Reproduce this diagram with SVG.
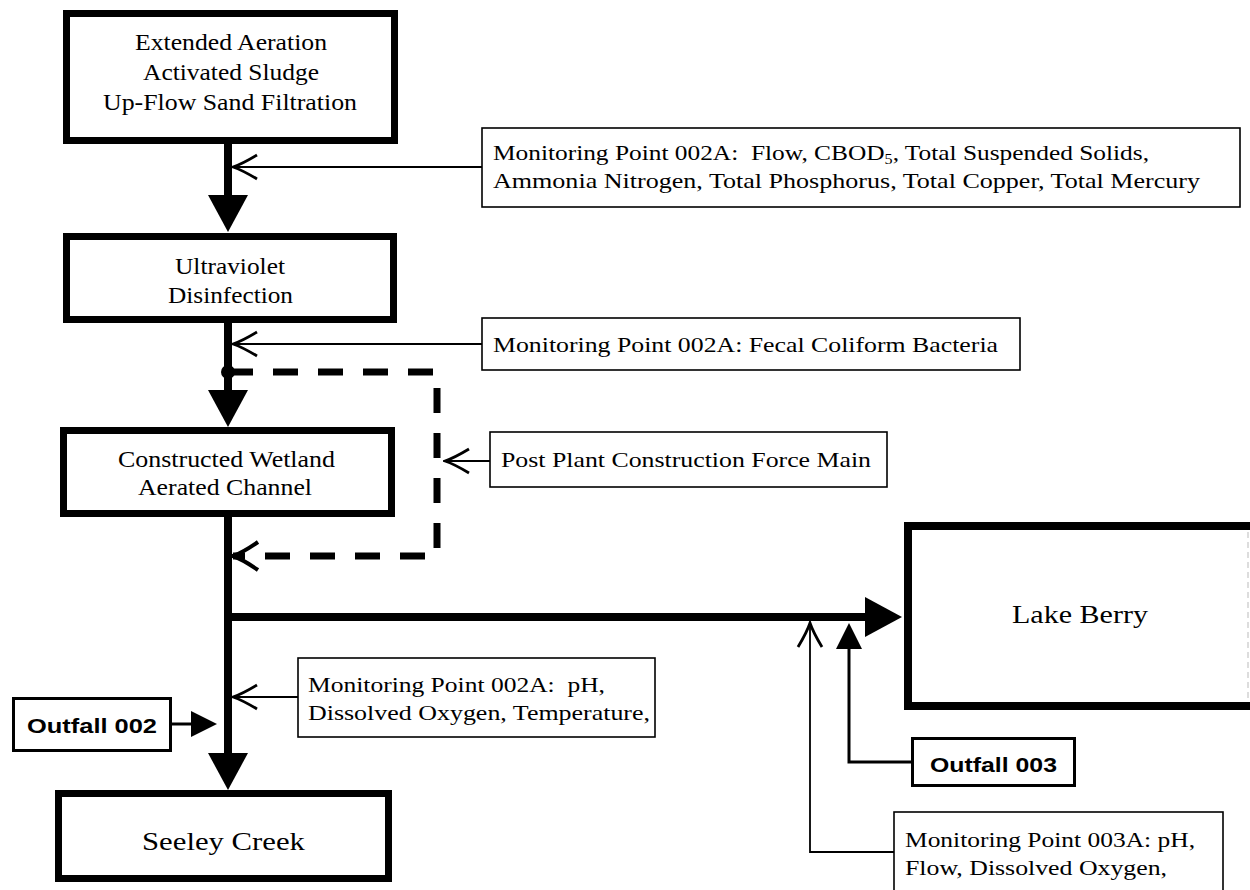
<svg xmlns="http://www.w3.org/2000/svg" width="1250" height="890" viewBox="0 0 1250 890">
<defs>
<style>
.main{fill:#fff;stroke:#000;stroke-width:7}
.mon{fill:#fff;stroke:#000;stroke-width:1.6}
.out{fill:#fff;stroke:#000;stroke-width:3}
.t{font-family:"Liberation Serif","Times New Roman",serif;fill:#000}
.tb{font-size:23px}
.tm{font-size:22px}
.tl{font-size:26px}
.ob{font-family:"Liberation Sans",Arial,sans-serif;font-weight:bold;font-size:21px;fill:#000}
.thick{fill:none;stroke:#000;stroke-width:8}
.thin{fill:none;stroke:#000;stroke-width:1.8}
.med{fill:none;stroke:#000;stroke-width:3}
.dash{fill:none;stroke:#000;stroke-width:7;stroke-dasharray:25 20}
</style>
<marker id="tri" markerUnits="userSpaceOnUse" viewBox="0 -21 38 42" refX="0" refY="0" markerWidth="38" markerHeight="42" orient="auto"><path d="M0,-20 L37,0 L0,20Z" fill="#000"/></marker>
<marker id="triS" markerUnits="userSpaceOnUse" viewBox="0 -14 28 28" refX="0" refY="0" markerWidth="28" markerHeight="28" orient="auto"><path d="M0,-13 L26,0 L0,13Z" fill="#000"/></marker>
<marker id="open" markerUnits="userSpaceOnUse" viewBox="-27 -14 29 28" refX="0" refY="0" markerWidth="29" markerHeight="28" orient="auto"><path d="M-24,-12 Q-9,-3 0,0 Q-9,3 -24,12" fill="none" stroke="#000" stroke-width="2.8"/></marker>
<marker id="openD" markerUnits="userSpaceOnUse" viewBox="-28 -16 31 32" refX="0" refY="0" markerWidth="31" markerHeight="32" orient="auto"><path d="M-25,-14 Q-9,-3 0,0 Q-9,3 -25,14" fill="none" stroke="#000" stroke-width="4"/></marker>
</defs>
<rect width="1250" height="890" fill="#fff"/>

<g id="connectors">
<path class="thick" d="M228,144 V195" marker-end="url(#tri)"/>
<path class="thick" d="M228,323 V390" marker-end="url(#tri)"/>
<path class="thick" d="M228,517 V753" marker-end="url(#tri)"/>
<path class="thick" d="M224,617 H865" marker-end="url(#tri)"/>
<circle cx="228" cy="372" r="7" fill="#000"/>
<path class="dash" d="M228,372 H437 V556 H233" marker-end="url(#openD)"/>
<path class="thin" d="M482,167 H233" marker-end="url(#open)"/>
<path class="thin" d="M482,344 H233" marker-end="url(#open)"/>
<path class="thin" d="M490,461 H445" marker-end="url(#open)"/>
<path class="thin" d="M298,697 H233" marker-end="url(#open)"/>
<path class="thin" d="M894,852 H810 V623" marker-end="url(#open)"/>
<path class="med" d="M172,724 H191" marker-end="url(#triS)"/>
<path class="med" d="M911,762 H849 V649" marker-end="url(#triS)"/>
</g>

<g id="node-extended-aeration">
<rect class="main" x="66.5" y="13.5" width="328" height="127"/>
<text class="t tb" x="135" y="50" textLength="192" lengthAdjust="spacingAndGlyphs">Extended Aeration</text>
<text class="t tb" x="143" y="80" textLength="176" lengthAdjust="spacingAndGlyphs">Activated Sludge</text>
<text class="t tb" x="103" y="110" textLength="254" lengthAdjust="spacingAndGlyphs">Up-Flow Sand Filtration</text>
</g>

<g id="node-mp-002a-flow">
<rect class="mon" x="482" y="128" width="758" height="79"/>
<text class="t tm" x="493" y="160" textLength="656" lengthAdjust="spacingAndGlyphs" xml:space="preserve">Monitoring Point 002A:  Flow, CBOD<tspan font-size="14" dy="4">5</tspan><tspan dy="-4">, Total Suspended Solids,</tspan></text>
<text class="t tm" x="493" y="188" textLength="707" lengthAdjust="spacingAndGlyphs">Ammonia Nitrogen, Total Phosphorus, Total Copper, Total Mercury</text>
</g>

<g id="node-uv">
<rect class="main" x="66.5" y="236.5" width="327" height="83"/>
<text class="t tb" x="175" y="274" textLength="110" lengthAdjust="spacingAndGlyphs">Ultraviolet</text>
<text class="t tb" x="168" y="303" textLength="125" lengthAdjust="spacingAndGlyphs">Disinfection</text>
</g>

<g id="node-mp-002a-fecal">
<rect class="mon" x="482" y="318" width="538" height="52"/>
<text class="t tm" x="493" y="352" textLength="505" lengthAdjust="spacingAndGlyphs">Monitoring Point 002A: Fecal Coliform Bacteria</text>
</g>

<g id="node-wetland">
<rect class="main" x="63.5" y="430.5" width="328" height="83"/>
<text class="t tb" x="118" y="467" textLength="217" lengthAdjust="spacingAndGlyphs">Constructed Wetland</text>
<text class="t tb" x="138" y="495" textLength="174" lengthAdjust="spacingAndGlyphs">Aerated Channel</text>
</g>

<g id="node-force-main">
<rect class="mon" x="490" y="432" width="397" height="55"/>
<text class="t tm" x="501" y="467" textLength="370" lengthAdjust="spacingAndGlyphs">Post Plant Construction Force Main</text>
</g>

<g id="node-lake-berry">
<path d="M1254,526 H908 V706 H1254" fill="#fff" stroke="#000" stroke-width="8"/>
<line x1="1248" y1="532" x2="1248" y2="700" stroke="#bbb" stroke-width="1" stroke-dasharray="6 4"/>
<text class="t tl" x="1012" y="623" textLength="136" lengthAdjust="spacingAndGlyphs">Lake Berry</text>
</g>

<g id="node-mp-002a-ph">
<rect class="mon" x="298" y="658" width="357" height="79"/>
<text class="t tm" x="308" y="692" textLength="297" lengthAdjust="spacingAndGlyphs" xml:space="preserve">Monitoring Point 002A:  pH,</text>
<text class="t tm" x="308" y="720" textLength="342" lengthAdjust="spacingAndGlyphs">Dissolved Oxygen, Temperature,</text>
</g>

<g id="node-outfall-002">
<rect class="out" x="13.5" y="698.5" width="157" height="52"/>
<text class="ob" x="27" y="733" textLength="130" lengthAdjust="spacingAndGlyphs">Outfall 002</text>
</g>

<g id="node-outfall-003">
<rect class="out" x="912.5" y="738.5" width="162" height="47"/>
<text class="ob" x="930" y="772" textLength="127" lengthAdjust="spacingAndGlyphs">Outfall 003</text>
</g>

<g id="node-mp-003a">
<rect class="mon" x="894" y="812" width="329" height="100"/>
<text class="t tm" x="905" y="847" textLength="290" lengthAdjust="spacingAndGlyphs">Monitoring Point 003A: pH,</text>
<text class="t tm" x="905" y="875" textLength="262" lengthAdjust="spacingAndGlyphs">Flow, Dissolved Oxygen,</text>
</g>

<g id="node-seeley-creek">
<rect class="main" x="58.5" y="793.5" width="330" height="85"/>
<text class="t tl" x="142" y="850" textLength="163" lengthAdjust="spacingAndGlyphs">Seeley Creek</text>
</g>
</svg>
